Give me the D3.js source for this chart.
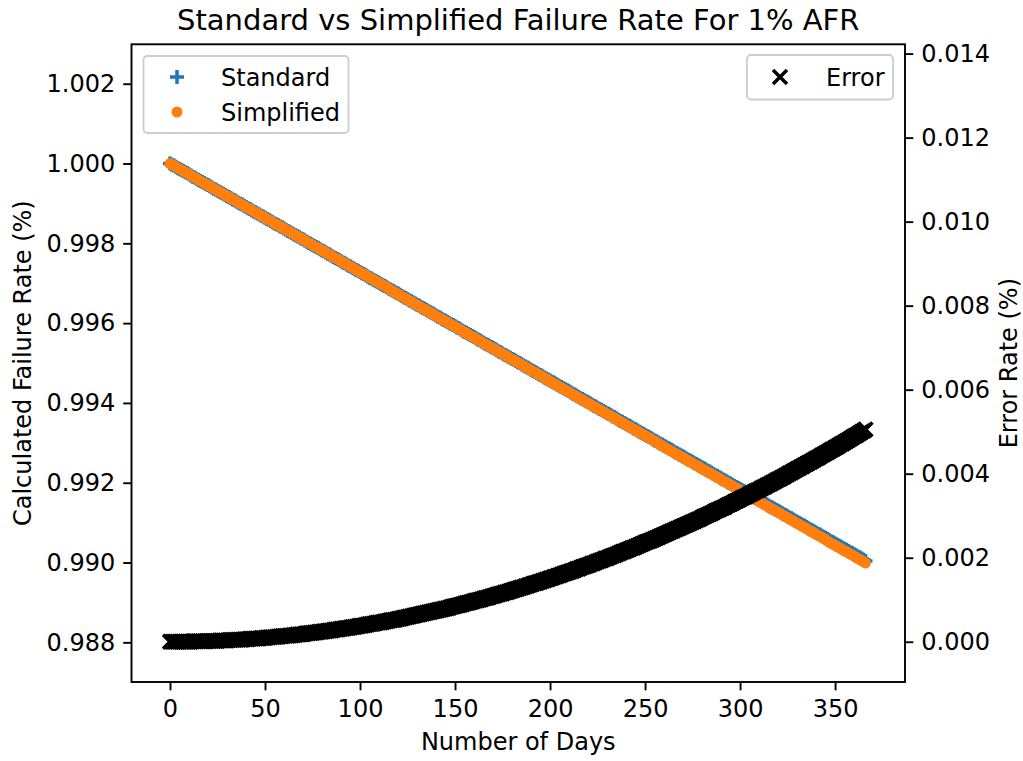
<!DOCTYPE html>
<html>
<head>
<meta charset="utf-8">
<script src="https://cdn.jsdelivr.net/npm/d3@7"></script>
<style>
  html, body { margin: 0; padding: 0; background: #fff; }
  svg { display: block; font-family: "DejaVu Sans", sans-serif; }
</style>
</head>
<body>
<svg id="chart" width="1023" height="761"></svg>
<script>
// ---------- data (one value per day) ----------
const days = [
0,1,2,3,4,5,6,7,8,9,10,11,12,13,14,15,16,17,18,19,20,21,22,23,24,25,26,27,28,29,
30,31,32,33,34,35,36,37,38,39,40,41,42,43,44,45,46,47,48,49,50,51,52,53,54,55,56,57,58,59,
60,61,62,63,64,65,66,67,68,69,70,71,72,73,74,75,76,77,78,79,80,81,82,83,84,85,86,87,88,89,
90,91,92,93,94,95,96,97,98,99,100,101,102,103,104,105,106,107,108,109,110,111,112,113,114,115,116,117,118,119,
120,121,122,123,124,125,126,127,128,129,130,131,132,133,134,135,136,137,138,139,140,141,142,143,144,145,146,147,148,149,
150,151,152,153,154,155,156,157,158,159,160,161,162,163,164,165,166,167,168,169,170,171,172,173,174,175,176,177,178,179,
180,181,182,183,184,185,186,187,188,189,190,191,192,193,194,195,196,197,198,199,200,201,202,203,204,205,206,207,208,209,
210,211,212,213,214,215,216,217,218,219,220,221,222,223,224,225,226,227,228,229,230,231,232,233,234,235,236,237,238,239,
240,241,242,243,244,245,246,247,248,249,250,251,252,253,254,255,256,257,258,259,260,261,262,263,264,265,266,267,268,269,
270,271,272,273,274,275,276,277,278,279,280,281,282,283,284,285,286,287,288,289,290,291,292,293,294,295,296,297,298,299,
300,301,302,303,304,305,306,307,308,309,310,311,312,313,314,315,316,317,318,319,320,321,322,323,324,325,326,327,328,329,
330,331,332,333,334,335,336,337,338,339,340,341,342,343,344,345,346,347,348,349,350,351,352,353,354,355,356,357,358,359,
360,361,362,363,364,365,366];

const standardRate = [
1.00000,0.99997,0.99995,0.99992,0.99989,0.99986,0.99984,0.99981,0.99978,0.99976,
0.99973,0.99970,0.99967,0.99965,0.99962,0.99959,0.99956,0.99954,0.99951,0.99948,
0.99946,0.99943,0.99940,0.99937,0.99935,0.99932,0.99929,0.99927,0.99924,0.99921,
0.99918,0.99916,0.99913,0.99910,0.99908,0.99905,0.99902,0.99899,0.99897,0.99894,
0.99891,0.99888,0.99886,0.99883,0.99880,0.99878,0.99875,0.99872,0.99869,0.99867,
0.99864,0.99861,0.99859,0.99856,0.99853,0.99850,0.99848,0.99845,0.99842,0.99840,
0.99837,0.99834,0.99831,0.99829,0.99826,0.99823,0.99820,0.99818,0.99815,0.99812,
0.99810,0.99807,0.99804,0.99801,0.99799,0.99796,0.99793,0.99791,0.99788,0.99785,
0.99782,0.99780,0.99777,0.99774,0.99772,0.99769,0.99766,0.99763,0.99761,0.99758,
0.99755,0.99752,0.99750,0.99747,0.99744,0.99742,0.99739,0.99736,0.99733,0.99731,
0.99728,0.99725,0.99723,0.99720,0.99717,0.99714,0.99712,0.99709,0.99706,0.99704,
0.99701,0.99698,0.99695,0.99693,0.99690,0.99687,0.99684,0.99682,0.99679,0.99676,
0.99674,0.99671,0.99668,0.99665,0.99663,0.99660,0.99657,0.99655,0.99652,0.99649,
0.99646,0.99644,0.99641,0.99638,0.99636,0.99633,0.99630,0.99627,0.99625,0.99622,
0.99619,0.99616,0.99614,0.99611,0.99608,0.99606,0.99603,0.99600,0.99597,0.99595,
0.99592,0.99589,0.99587,0.99584,0.99581,0.99578,0.99576,0.99573,0.99570,0.99568,
0.99565,0.99562,0.99559,0.99557,0.99554,0.99551,0.99548,0.99546,0.99543,0.99540,
0.99538,0.99535,0.99532,0.99529,0.99527,0.99524,0.99521,0.99519,0.99516,0.99513,
0.99510,0.99508,0.99505,0.99502,0.99500,0.99497,0.99494,0.99491,0.99489,0.99486,
0.99483,0.99480,0.99478,0.99475,0.99472,0.99470,0.99467,0.99464,0.99461,0.99459,
0.99456,0.99453,0.99451,0.99448,0.99445,0.99442,0.99440,0.99437,0.99434,0.99432,
0.99429,0.99426,0.99423,0.99421,0.99418,0.99415,0.99412,0.99410,0.99407,0.99404,
0.99402,0.99399,0.99396,0.99393,0.99391,0.99388,0.99385,0.99383,0.99380,0.99377,
0.99374,0.99372,0.99369,0.99366,0.99364,0.99361,0.99358,0.99355,0.99353,0.99350,
0.99347,0.99344,0.99342,0.99339,0.99336,0.99334,0.99331,0.99328,0.99325,0.99323,
0.99320,0.99317,0.99315,0.99312,0.99309,0.99306,0.99304,0.99301,0.99298,0.99296,
0.99293,0.99290,0.99287,0.99285,0.99282,0.99279,0.99276,0.99274,0.99271,0.99268,
0.99266,0.99263,0.99260,0.99257,0.99255,0.99252,0.99249,0.99247,0.99244,0.99241,
0.99238,0.99236,0.99233,0.99230,0.99228,0.99225,0.99222,0.99219,0.99217,0.99214,
0.99211,0.99208,0.99206,0.99203,0.99200,0.99198,0.99195,0.99192,0.99189,0.99187,
0.99184,0.99181,0.99179,0.99176,0.99173,0.99170,0.99168,0.99165,0.99162,0.99160,
0.99157,0.99154,0.99151,0.99149,0.99146,0.99143,0.99140,0.99138,0.99135,0.99132,
0.99130,0.99127,0.99124,0.99121,0.99119,0.99116,0.99113,0.99111,0.99108,0.99105,
0.99102,0.99100,0.99097,0.99094,0.99092,0.99089,0.99086,0.99083,0.99081,0.99078,
0.99075,0.99072,0.99070,0.99067,0.99064,0.99062,0.99059,0.99056,0.99053,0.99051,
0.99048,0.99045,0.99043,0.99040,0.99037,0.99034,0.99032,0.99029,0.99026,0.99024,
0.99021,0.99018,0.99015,0.99013,0.99010,0.99007,0.99004];

const simplifiedRate = [
1.00000,0.99997,0.99995,0.99992,0.99989,0.99986,0.99984,0.99981,0.99978,0.99976,
0.99973,0.99970,0.99967,0.99965,0.99962,0.99959,0.99956,0.99954,0.99951,0.99948,
0.99946,0.99943,0.99940,0.99937,0.99935,0.99932,0.99929,0.99927,0.99924,0.99921,
0.99918,0.99916,0.99913,0.99910,0.99908,0.99905,0.99902,0.99899,0.99897,0.99894,
0.99891,0.99888,0.99886,0.99883,0.99880,0.99878,0.99875,0.99872,0.99869,0.99867,
0.99864,0.99861,0.99859,0.99856,0.99853,0.99850,0.99848,0.99845,0.99842,0.99840,
0.99837,0.99834,0.99831,0.99829,0.99826,0.99823,0.99820,0.99818,0.99815,0.99812,
0.99810,0.99807,0.99804,0.99801,0.99799,0.99796,0.99793,0.99791,0.99788,0.99785,
0.99782,0.99780,0.99777,0.99774,0.99772,0.99769,0.99766,0.99763,0.99761,0.99758,
0.99755,0.99752,0.99750,0.99747,0.99744,0.99742,0.99739,0.99736,0.99733,0.99731,
0.99728,0.99725,0.99723,0.99720,0.99717,0.99714,0.99712,0.99709,0.99706,0.99704,
0.99701,0.99698,0.99695,0.99693,0.99690,0.99687,0.99683,0.99681,0.99678,0.99675,
0.99673,0.99670,0.99667,0.99664,0.99662,0.99659,0.99656,0.99654,0.99651,0.99648,
0.99645,0.99643,0.99640,0.99637,0.99635,0.99632,0.99629,0.99626,0.99624,0.99621,
0.99618,0.99615,0.99613,0.99610,0.99607,0.99605,0.99602,0.99599,0.99596,0.99594,
0.99591,0.99588,0.99586,0.99583,0.99580,0.99577,0.99575,0.99572,0.99569,0.99567,
0.99564,0.99561,0.99558,0.99556,0.99553,0.99550,0.99547,0.99545,0.99542,0.99539,
0.99537,0.99534,0.99531,0.99528,0.99526,0.99523,0.99520,0.99518,0.99515,0.99512,
0.99509,0.99507,0.99504,0.99501,0.99499,0.99496,0.99493,0.99490,0.99488,0.99485,
0.99482,0.99479,0.99477,0.99474,0.99471,0.99469,0.99466,0.99463,0.99460,0.99458,
0.99454,0.99451,0.99449,0.99446,0.99443,0.99440,0.99438,0.99435,0.99432,0.99430,
0.99427,0.99424,0.99421,0.99419,0.99416,0.99413,0.99410,0.99408,0.99405,0.99402,
0.99400,0.99397,0.99394,0.99391,0.99389,0.99386,0.99383,0.99381,0.99378,0.99375,
0.99372,0.99370,0.99367,0.99364,0.99362,0.99359,0.99356,0.99353,0.99351,0.99348,
0.99345,0.99342,0.99340,0.99337,0.99334,0.99332,0.99329,0.99326,0.99323,0.99321,
0.99318,0.99315,0.99313,0.99310,0.99307,0.99304,0.99302,0.99299,0.99295,0.99293,
0.99290,0.99287,0.99284,0.99282,0.99279,0.99276,0.99273,0.99271,0.99268,0.99265,
0.99263,0.99260,0.99257,0.99254,0.99252,0.99249,0.99246,0.99244,0.99241,0.99238,
0.99235,0.99233,0.99230,0.99227,0.99225,0.99222,0.99219,0.99216,0.99214,0.99211,
0.99208,0.99205,0.99203,0.99200,0.99197,0.99195,0.99192,0.99189,0.99186,0.99184,
0.99181,0.99178,0.99176,0.99173,0.99170,0.99166,0.99164,0.99161,0.99158,0.99156,
0.99153,0.99150,0.99147,0.99145,0.99142,0.99139,0.99136,0.99134,0.99131,0.99128,
0.99126,0.99123,0.99120,0.99117,0.99115,0.99112,0.99109,0.99107,0.99104,0.99101,
0.99098,0.99096,0.99093,0.99090,0.99088,0.99085,0.99082,0.99079,0.99077,0.99074,
0.99071,0.99068,0.99066,0.99063,0.99060,0.99058,0.99054,0.99051,0.99048,0.99046,
0.99043,0.99040,0.99038,0.99035,0.99032,0.99029,0.99027,0.99024,0.99021,0.99019,
0.99016,0.99013,0.99010,0.99008,0.99005,0.99002,0.98999];

const errorRate = [
0.00000,0.00000,0.00000,0.00000,0.00000,0.00000,0.00000,0.00000,0.00000,0.00000,
0.00000,0.00000,0.00001,0.00001,0.00001,0.00001,0.00001,0.00001,0.00001,0.00001,
0.00002,0.00002,0.00002,0.00002,0.00002,0.00002,0.00003,0.00003,0.00003,0.00003,
0.00003,0.00004,0.00004,0.00004,0.00004,0.00005,0.00005,0.00005,0.00005,0.00006,
0.00006,0.00006,0.00007,0.00007,0.00007,0.00008,0.00008,0.00008,0.00009,0.00009,
0.00009,0.00010,0.00010,0.00011,0.00011,0.00011,0.00012,0.00012,0.00013,0.00013,
0.00014,0.00014,0.00014,0.00015,0.00015,0.00016,0.00016,0.00017,0.00017,0.00018,
0.00018,0.00019,0.00020,0.00020,0.00021,0.00021,0.00022,0.00022,0.00023,0.00024,
0.00024,0.00025,0.00025,0.00026,0.00027,0.00027,0.00028,0.00029,0.00029,0.00030,
0.00031,0.00031,0.00032,0.00033,0.00033,0.00034,0.00035,0.00035,0.00036,0.00037,
0.00038,0.00038,0.00039,0.00040,0.00041,0.00042,0.00042,0.00043,0.00044,0.00045,
0.00046,0.00046,0.00047,0.00048,0.00049,0.00050,0.00051,0.00052,0.00052,0.00053,
0.00054,0.00055,0.00056,0.00057,0.00058,0.00059,0.00060,0.00061,0.00062,0.00063,
0.00064,0.00065,0.00066,0.00067,0.00068,0.00069,0.00070,0.00071,0.00072,0.00073,
0.00074,0.00075,0.00076,0.00077,0.00078,0.00079,0.00080,0.00081,0.00083,0.00084,
0.00085,0.00086,0.00087,0.00088,0.00089,0.00091,0.00092,0.00093,0.00094,0.00095,
0.00097,0.00098,0.00099,0.00100,0.00101,0.00103,0.00104,0.00105,0.00106,0.00108,
0.00109,0.00110,0.00112,0.00113,0.00114,0.00115,0.00117,0.00118,0.00119,0.00121,
0.00122,0.00124,0.00125,0.00126,0.00128,0.00129,0.00130,0.00132,0.00133,0.00135,
0.00136,0.00138,0.00139,0.00140,0.00142,0.00143,0.00145,0.00146,0.00148,0.00149,
0.00151,0.00152,0.00154,0.00155,0.00157,0.00158,0.00160,0.00162,0.00163,0.00165,
0.00166,0.00168,0.00169,0.00171,0.00173,0.00174,0.00176,0.00178,0.00179,0.00181,
0.00182,0.00184,0.00186,0.00187,0.00189,0.00191,0.00193,0.00194,0.00196,0.00198,
0.00199,0.00201,0.00203,0.00205,0.00206,0.00208,0.00210,0.00212,0.00214,0.00215,
0.00217,0.00219,0.00221,0.00223,0.00224,0.00226,0.00228,0.00230,0.00232,0.00234,
0.00236,0.00238,0.00239,0.00241,0.00243,0.00245,0.00247,0.00249,0.00251,0.00253,
0.00255,0.00257,0.00259,0.00261,0.00263,0.00265,0.00267,0.00269,0.00271,0.00273,
0.00275,0.00277,0.00279,0.00281,0.00283,0.00285,0.00287,0.00289,0.00291,0.00293,
0.00296,0.00298,0.00300,0.00302,0.00304,0.00306,0.00308,0.00311,0.00313,0.00315,
0.00317,0.00319,0.00321,0.00324,0.00326,0.00328,0.00330,0.00333,0.00335,0.00337,
0.00339,0.00342,0.00344,0.00346,0.00348,0.00351,0.00353,0.00355,0.00358,0.00360,
0.00362,0.00365,0.00367,0.00369,0.00372,0.00374,0.00376,0.00379,0.00381,0.00384,
0.00386,0.00388,0.00391,0.00393,0.00396,0.00398,0.00401,0.00403,0.00406,0.00408,
0.00411,0.00413,0.00416,0.00418,0.00421,0.00423,0.00426,0.00428,0.00431,0.00433,
0.00436,0.00438,0.00441,0.00444,0.00446,0.00449,0.00451,0.00454,0.00457,0.00459,
0.00462,0.00464,0.00467,0.00470,0.00472,0.00475,0.00478,0.00480,0.00483,0.00486,
0.00489,0.00491,0.00494,0.00497,0.00500,0.00502,0.00505];

const xTicks = [0, 50, 100, 150, 200, 250, 300, 350];
const leftTicks = [0.988, 0.990, 0.992, 0.994, 0.996, 0.998, 1.000, 1.002];
const rightTicks = [0.000, 0.002, 0.004, 0.006, 0.008, 0.010, 0.012, 0.014];

const titleText = "Standard vs Simplified Failure Rate For 1% AFR";
const xLabel = "Number of Days";
const leftLabel = "Calculated Failure Rate (%)";
const rightLabel = "Error Rate (%)";
const seriesNames = ["Standard", "Simplified", "Error"];
const colors = { standard: "#1f77b4", simplified: "#ff7f0e", error: "#000000" };

// ---------- layout ----------
const svg = d3.select("#chart");
const plot = { left: 131.5, right: 905, top: 44.3, bottom: 682 };
const FS = 24;

const x = d3.scaleLinear().domain([-20.26, 386.8]).range([plot.left, plot.right]);
const yL = d3.scaleLinear().domain([0.987006, 1.002988]).range([plot.bottom, plot.top]);
const yR = d3.scaleLinear().domain([-0.000958, 0.014221]).range([plot.bottom, plot.top]);

svg.append("rect").attr("width", 1023).attr("height", 761).attr("fill", "#fff");

// ---------- marks ----------
const M = 14;      // marker size
const MW = 3.5;    // marker stroke
const plusPath = `M${-M/2},0H${M/2}M0,${-M/2}V${M/2}`;
const xPath = `M${-M/2},${-M/2}L${M/2},${M/2}M${-M/2},${M/2}L${M/2},${-M/2}`;

const n = Math.min(days.length, standardRate.length, simplifiedRate.length, errorRate.length);
const idx = d3.range(n);

const gStd = svg.append("g");
gStd.selectAll("path").data(idx).join("path")
  .attr("d", plusPath)
  .attr("transform", i => `translate(${x(days[i])},${yL(standardRate[i])})`)
  .attr("stroke", colors.standard).attr("stroke-width", MW).attr("fill", "none");

const gSim = svg.append("g");
gSim.selectAll("circle").data(idx).join("circle")
  .attr("cx", i => x(days[i]))
  .attr("cy", i => yL(simplifiedRate[i]))
  .attr("r", 5.5)
  .attr("fill", colors.simplified);

// left legend (belongs to first axes)
function legendBox(g, x0, y0, w, h) {
  g.append("rect").attr("x", x0).attr("y", y0).attr("width", w).attr("height", h)
    .attr("rx", 4).attr("ry", 4)
    .attr("fill", "rgba(255,255,255,0.8)").attr("stroke", "#cccccc").attr("stroke-width", 1.8);
}
const legL = svg.append("g");
legendBox(legL, 143.5, 56, 205, 77);
legL.append("path").attr("d", plusPath).attr("transform", "translate(177,77)")
  .attr("stroke", colors.standard).attr("stroke-width", MW).attr("fill", "none");
legL.append("circle").attr("cx", 177).attr("cy", 112).attr("r", 5.5).attr("fill", colors.simplified);
legL.append("text").attr("x", 221).attr("y", 77).attr("dy", "0.36em").attr("font-size", FS).text(seriesNames[0]);
legL.append("text").attr("x", 221).attr("y", 112).attr("dy", "0.36em").attr("font-size", FS).text(seriesNames[1]);

// error series (twin axes, drawn on top)
const gErr = svg.append("g");
gErr.selectAll("path").data(idx).join("path")
  .attr("d", xPath)
  .attr("transform", i => `translate(${x(days[i])},${yR(errorRate[i])})`)
  .attr("stroke", colors.error).attr("stroke-width", MW).attr("fill", "none");

// ---------- axes ----------
const axisColor = "#000";
const tickLen = 8.3;
const tickW = 1.9;

const xAxis = svg.append("g").attr("transform", `translate(0,${plot.bottom})`)
  .call(d3.axisBottom(x).tickValues(xTicks).tickFormat(d3.format("d")).tickSize(tickLen).tickPadding(8));
const lAxis = svg.append("g").attr("transform", `translate(${plot.left},0)`)
  .call(d3.axisLeft(yL).tickValues(leftTicks).tickFormat(d3.format(".3f")).tickSize(tickLen).tickPadding(8));
const rAxis = svg.append("g").attr("transform", `translate(${plot.right},0)`)
  .call(d3.axisRight(yR).tickValues(rightTicks).tickFormat(d3.format(".3f")).tickSize(tickLen).tickPadding(8));

[xAxis, lAxis, rAxis].forEach(a => {
  a.select(".domain").remove();
  a.selectAll(".tick line").attr("stroke", axisColor).attr("stroke-width", tickW);
  a.selectAll(".tick text").attr("font-size", FS).attr("font-family", "DejaVu Sans").attr("fill", "#000");
});
xAxis.selectAll(".tick text").attr("dy", "0.76em");

// spines
svg.append("rect").attr("x", plot.left).attr("y", plot.top)
  .attr("width", plot.right - plot.left).attr("height", plot.bottom - plot.top)
  .attr("fill", "none").attr("stroke", axisColor).attr("stroke-width", 1.9);

// right legend
const legR = svg.append("g");
legendBox(legR, 747, 55, 146, 44.5);
legR.append("path").attr("d", xPath).attr("transform", "translate(780,77)")
  .attr("stroke", colors.error).attr("stroke-width", MW).attr("fill", "none");
legR.append("text").attr("x", 826).attr("y", 77).attr("dy", "0.36em").attr("font-size", FS).text(seriesNames[2]);

// ---------- labels ----------
svg.append("text").attr("x", (plot.left + plot.right) / 2).attr("y", 30)
  .attr("text-anchor", "middle").attr("font-size", 29).text(titleText);
svg.append("text").attr("x", (plot.left + plot.right) / 2).attr("y", 750)
  .attr("text-anchor", "middle").attr("font-size", FS).text(xLabel);
svg.append("text").attr("transform", `translate(31,${(plot.top + plot.bottom) / 2}) rotate(-90)`)
  .attr("text-anchor", "middle").attr("font-size", FS).text(leftLabel);
svg.append("text").attr("transform", `translate(1017,${(plot.top + plot.bottom) / 2}) rotate(-90)`)
  .attr("text-anchor", "middle").attr("font-size", FS).text(rightLabel);
</script>
</body>
</html>
